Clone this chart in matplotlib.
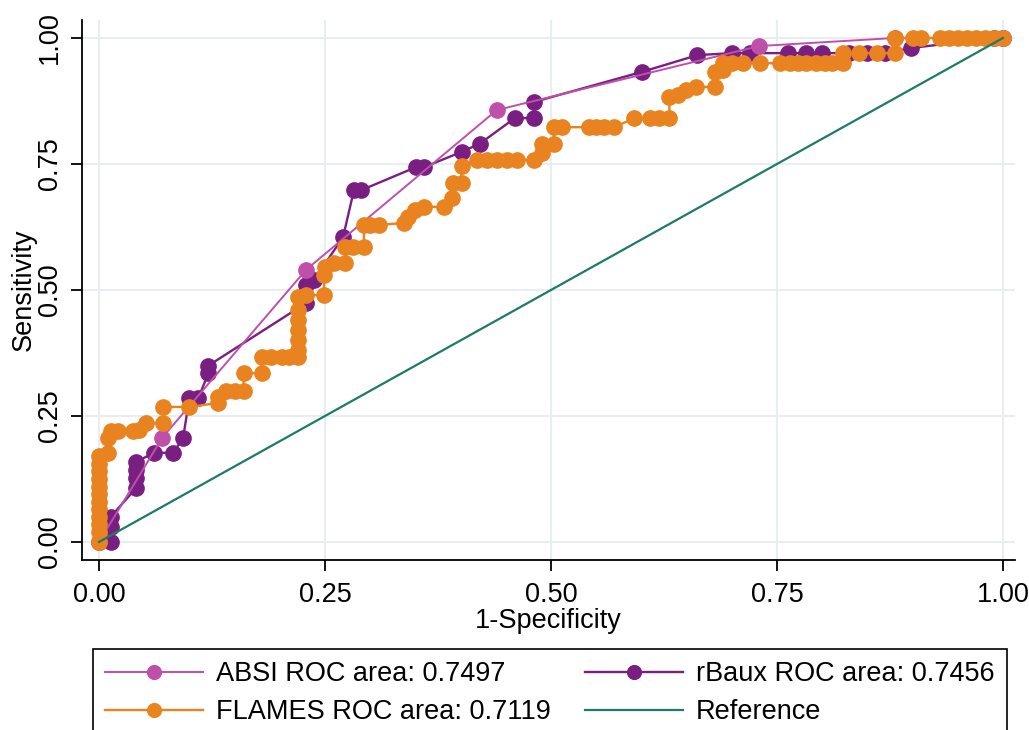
import matplotlib
matplotlib.use("Agg")
import matplotlib.pyplot as plt

plt.rcParams['font.family'] = ['Liberation Sans', 'DejaVu Sans']

# ROC points: (1-specificity, sensitivity)
absi_x = [0, 0.07, 0.229, 0.44, 0.73, 0.88, 1.0]
absi_y = [0, 0.207, 0.54, 0.857, 0.984, 1.0, 1.0]

rbaux_x = [0, 0.013, 0.013, 0.013, 0.041, 0.041, 0.041, 0.041, 0.061, 0.082, 0.093,
           0.1, 0.11, 0.121, 0.121, 0.229, 0.229, 0.238, 0.27, 0.282, 0.29, 0.351,
           0.36, 0.401, 0.421, 0.46, 0.481, 0.481, 0.601, 0.662, 0.70, 0.72, 0.762,
           0.782, 0.80, 0.83, 0.85, 0.87, 0.898, 0.99, 1.0]
rbaux_y = [0, 0, 0.03, 0.05, 0.107, 0.127, 0.143, 0.159, 0.177, 0.177, 0.206,
           0.286, 0.286, 0.335, 0.35, 0.474, 0.51, 0.52, 0.605, 0.698, 0.698, 0.744,
           0.744, 0.774, 0.79, 0.841, 0.841, 0.873, 0.933, 0.966, 0.97, 0.97, 0.97,
           0.97, 0.97, 0.97, 0.97, 0.97, 0.98, 1.0, 1.0]

flames_x = [0, 0, 0, 0, 0, 0, 0, 0, 0, 0, 0, 0,
            0.01, 0.01, 0.013, 0.021, 0.038, 0.044, 0.052, 0.071, 0.071, 0.1,
            0.132, 0.132, 0.141, 0.15, 0.16, 0.16, 0.18, 0.18, 0.19, 0.202, 0.21,
            0.22, 0.22, 0.22, 0.22, 0.22, 0.22, 0.22, 0.229, 0.249, 0.249, 0.25,
            0.26, 0.272, 0.272, 0.281, 0.293, 0.293, 0.30, 0.31, 0.337, 0.342,
            0.35, 0.36, 0.382, 0.39, 0.392, 0.401, 0.401, 0.418, 0.429, 0.44,
            0.451, 0.462, 0.481, 0.49, 0.49, 0.503, 0.503, 0.512, 0.542, 0.55,
            0.559, 0.57, 0.592, 0.61, 0.62, 0.631, 0.631, 0.64, 0.649, 0.66,
            0.681, 0.681, 0.69, 0.69, 0.70, 0.712, 0.731, 0.753, 0.764, 0.773,
            0.782, 0.793, 0.803, 0.811, 0.823, 0.823, 0.841, 0.861, 0.881, 0.881,
            0.9, 0.909, 0.93, 0.94, 0.95, 0.96, 0.97, 0.98, 0.99, 1.0]
flames_y = [0, 0.02, 0.035, 0.05, 0.065, 0.08, 0.095, 0.11, 0.125, 0.14, 0.155, 0.17,
            0.177, 0.207, 0.22, 0.22, 0.22, 0.222, 0.236, 0.236, 0.268, 0.268,
            0.276, 0.288, 0.30, 0.30, 0.30, 0.335, 0.335, 0.367, 0.367, 0.367, 0.367,
            0.367, 0.38, 0.40, 0.42, 0.44, 0.46, 0.486, 0.49, 0.49, 0.53, 0.545,
            0.553, 0.553, 0.585, 0.585, 0.585, 0.629, 0.629, 0.629, 0.633, 0.645,
            0.659, 0.665, 0.665, 0.683, 0.712, 0.712, 0.746, 0.758, 0.758, 0.758,
            0.758, 0.758, 0.758, 0.772, 0.79, 0.79, 0.823, 0.823, 0.823, 0.823,
            0.823, 0.823, 0.841, 0.841, 0.841, 0.841, 0.883, 0.887, 0.897, 0.903,
            0.903, 0.933, 0.937, 0.95, 0.95, 0.95, 0.95, 0.95, 0.95, 0.95,
            0.95, 0.95, 0.95, 0.95, 0.95, 0.97, 0.97, 0.97, 0.97, 1.0,
            1.0, 1.0, 1.0, 1.0, 1.0, 1.0, 1.0, 1.0, 1.0, 1.0]

label_absi = "ABSI ROC area: 0.7497"
label_rbaux = "rBaux ROC area: 0.7456"
label_flames = "FLAMES ROC area: 0.7119"
label_ref = "Reference"
ticks = [0, 0.25, 0.5, 0.75, 1.0]
tick_labels = ["0.00", "0.25", "0.50", "0.75", "1.00"]

c_absi = '#bf50aa'
c_rbaux = '#7a1f82'
c_flames = '#e8831f'
c_ref = '#1f7a68'

fig = plt.figure(figsize=(10.29, 7.30), dpi=100)
ax = fig.add_axes([0.0797, 0.2329, 0.9067, 0.7397])

ms = 11
h_rbaux, = ax.plot(rbaux_x, rbaux_y, '-o', color=c_rbaux, lw=1.7, ms=ms, zorder=3)
h_absi, = ax.plot(absi_x, absi_y, '-o', color=c_absi, lw=1.4, ms=ms, zorder=4)
h_flames, = ax.plot(flames_x, flames_y, '-o', color=c_flames, lw=1.7, ms=ms, zorder=5)
h_ref, = ax.plot([0, 1], [0, 1], '-', color=c_ref, lw=1.6, zorder=6)

ax.set_xlim(-0.0188, 1.0133)
ax.set_ylim(-0.0357, 1.0357)
ax.set_xticks(ticks)
ax.set_xticklabels(tick_labels)
ax.set_yticks(ticks)
ax.set_yticklabels(tick_labels, rotation=90, va='center')
ax.grid(True, color='#e4edf1', lw=1.3)
ax.set_axisbelow(True)

for s in ['top', 'right']:
    ax.spines[s].set_visible(False)
for s in ['left', 'bottom']:
    ax.spines[s].set_linewidth(1.3)
ax.tick_params(axis='both', length=8, width=1.3, labelsize=19.5)
ax.tick_params(axis='y', pad=6)
ax.tick_params(axis='x', pad=8)

ax.set_xlabel("1-Specificity", fontsize=19.5, labelpad=0)
ax.set_ylabel("Sensitivity", fontsize=19.5, labelpad=0)

# matplotlib fills legend columns first, so order gives Stata's row layout
leg = fig.legend([h_absi, h_flames, h_rbaux, h_ref],
                 [label_absi, label_flames, label_rbaux, label_ref], ncol=2,
                 loc='upper left', bbox_to_anchor=(93 / 1029, 1 - 649 / 730, 914 / 1029, 0),
                 mode='expand', fontsize=19.5, handlelength=3.6, handletextpad=0.5,
                 borderpad=0.45, labelspacing=0.45, borderaxespad=0, fancybox=False,
                 framealpha=1, edgecolor='black', markerscale=0.9)
leg.get_frame().set_linewidth(1.2)

fig.savefig("out.png", dpi=100)
